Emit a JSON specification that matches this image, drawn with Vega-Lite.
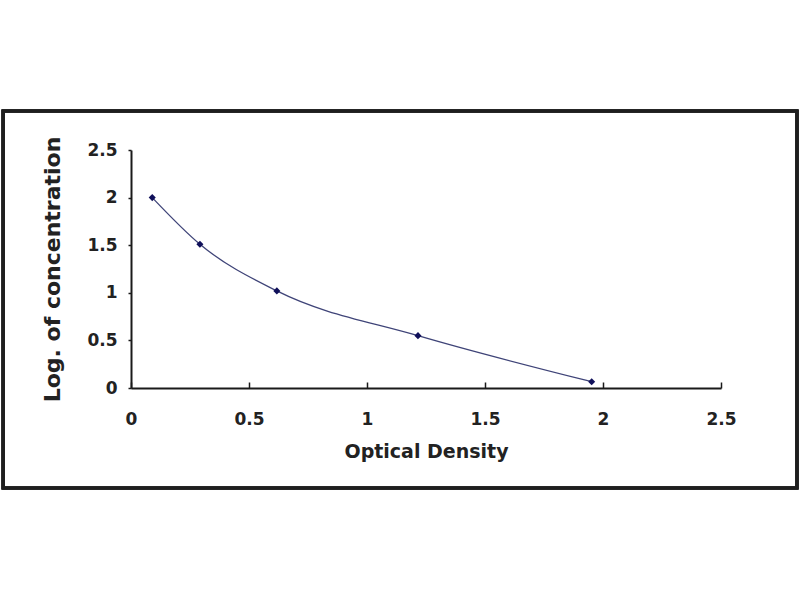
{
  "$schema": "https://vega.github.io/schema/vega-lite/v6.json",
  "autosize": {"type": "none"},
  "width": 590,
  "height": 238,
  "padding": {"left": 131, "top": 150, "right": 79, "bottom": 212},
  "background": "white",
  "config": {
    "view": {"stroke": null},
    "font": "DejaVu Sans",
    "axis": {
      "labelFont": "DejaVu Sans",
      "labelFontWeight": "bold",
      "labelFontSize": 17,
      "labelColor": "#222222",
      "titleFont": "DejaVu Sans",
      "titleFontWeight": "bold",
      "titleFontSize": 19,
      "titleColor": "#222222",
      "domainColor": "#1a1a1a",
      "domainWidth": 2,
      "tickColor": "#1a1a1a",
      "tickWidth": 1.5,
      "grid": false,
      "format": "~g"
    }
  },
  "data": {
    "values": [
      {"od": 0.09, "logc": 2.0},
      {"od": 0.292, "logc": 1.51},
      {"od": 0.618, "logc": 1.02},
      {"od": 1.216, "logc": 0.55},
      {"od": 1.952, "logc": 0.066}
    ]
  },
  "layer": [
    {
      "mark": {"type": "rect", "fill": null, "stroke": "#1e1e1e", "strokeWidth": 3},
      "encoding": {
        "x": {"datum": -0.542, "type": "quantitative", "scale": {"domain": [0, 2.5], "nice": false}},
        "x2": {"datum": 2.822},
        "y": {"datum": 2.91, "type": "quantitative", "scale": {"domain": [0, 2.5], "nice": false}},
        "y2": {"datum": -1.05}
      }
    },
    {
      "mark": {"type": "line", "interpolate": "monotone", "color": "#3f4478", "strokeWidth": 1.3},
      "encoding": {
        "x": {
          "field": "od", "type": "quantitative",
          "scale": {"domain": [0, 2.5], "nice": false, "zero": false},
          "axis": {"title": "Optical Density", "values": [0, 0.5, 1, 1.5, 2, 2.5], "format": "~g", "tickSize": -6, "labelPadding": 29, "titlePadding": 15, "labelFlush": false}
        },
        "y": {
          "field": "logc", "type": "quantitative",
          "scale": {"domain": [0, 2.5], "nice": false, "zero": false},
          "axis": {"title": "Log. of concentration", "titleFontSize": 22, "values": [0, 0.5, 1, 1.5, 2, 2.5], "format": "~g", "tickSize": 3, "labelPadding": 11, "titlePadding": 22, "labelFlush": false}
        }
      }
    },
    {
      "mark": {"type": "point", "shape": "diamond", "filled": true, "color": "#10105a", "size": 50, "opacity": 1},
      "encoding": {
        "x": {"field": "od", "type": "quantitative"},
        "y": {"field": "logc", "type": "quantitative"}
      }
    }
  ]
}
